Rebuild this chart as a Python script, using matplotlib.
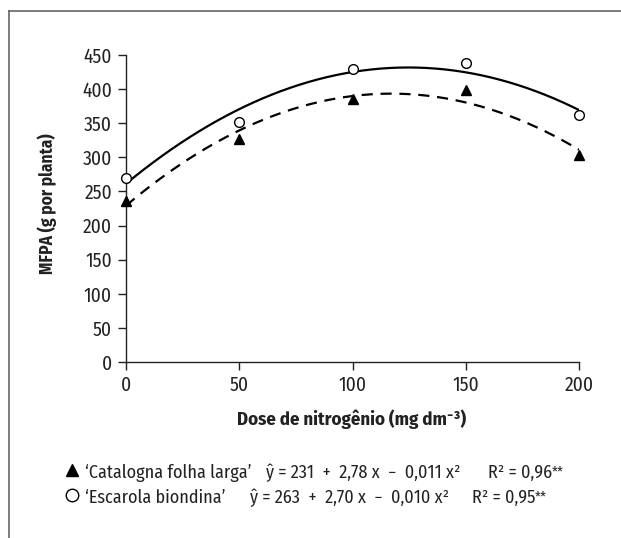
import numpy as np
import matplotlib
matplotlib.use("Agg")
import matplotlib.pyplot as plt
from matplotlib.lines import Line2D

FAM = ['Fira Sans Condensed', 'Roboto Condensed', 'DejaVu Sans']
plt.rcParams['font.family'] = FAM

dose = [0, 50, 100, 150, 200]
catalogna = [236, 327, 386, 398, 303]
escarola = [270, 352, 429, 438, 362]
yticks = [0, 50, 100, 150, 200, 250, 300, 350, 400, 450]
xticks = [0, 50, 100, 150, 200]

W, H = 621, 538
fig = plt.figure(figsize=(W / 100, H / 100), dpi=100)
ax = fig.add_axes([126 / W, 1 - 362 / H, (579 - 126) / W, (362 - 55) / H])

xs = np.linspace(0, 200, 200)
pc = np.polyfit(dose, catalogna, 2)
pe = np.polyfit(dose, escarola, 2)
ax.plot(xs, np.polyval(pe, xs), color='black', lw=1.6, zorder=2)
ax.plot(xs, np.polyval(pc, xs), color='black', lw=1.6, ls=(0, (5, 3.5)), zorder=2)
ax.plot(dose, catalogna, ls='none', marker='^', ms=7, color='black', clip_on=False, zorder=3)
ax.plot(dose, escarola, ls='none', marker='o', ms=7, mfc='white', mec='black', mew=1.0,
        clip_on=False, zorder=3)

ax.set_xlim(0, 200)
ax.set_ylim(0, 450)
ax.set_xticks(xticks)
ax.set_yticks(yticks)
ax.tick_params(direction='out', length=6, width=1, labelsize=14, color='#222222',
               labelcolor='#222222', pad=4)
for s in ['top', 'right']:
    ax.spines[s].set_visible(False)
for s in ['left', 'bottom']:
    ax.spines[s].set_linewidth(1)
    ax.spines[s].set_color('#222222')

fig.text(47 / W, 1 - 204 / H, 'MFPA (g por planta)', rotation=90, ha='center', va='center',
         fontsize=12.5, fontweight='bold', color='#222222')
fig.text(352 / W, 1 - 419 / H, 'Dose de nitrogênio (mg dm⁻³)', ha='center', va='center',
         fontsize=13.5, fontweight='bold', color='#222222')

# border (top and left)
fig.add_artist(Line2D([9 / W, 1], [1 - 11 / H, 1 - 11 / H], transform=fig.transFigure,
                      color='#666666', lw=1.2))
fig.add_artist(Line2D([9 / W, 9 / W], [1 - 11 / H, 0], transform=fig.transFigure,
                      color='#666666', lw=1.2))

# legend
y1, y2 = 1 - 473 / H, 1 - 498 / H
fig.add_artist(Line2D([72 / W], [1 - 470 / H], transform=fig.transFigure, marker='^', ms=9,
                      color='black', ls='none'))
fig.add_artist(Line2D([72 / W], [1 - 495 / H], transform=fig.transFigure, marker='o', ms=9,
                      mfc='white', mec='black', mew=1.0, ls='none'))
fs = 13
renderer = fig.canvas.get_renderer()


def stars(t):
    bb = t.get_window_extent(renderer)
    fig.text((bb.x1 - 1) / W, (bb.y1 - 1) / H, '**', va='top', fontsize=10.5, color='#222222')


fig.text(85 / W, y1, '‘Catalogna folha larga’', va='center', fontsize=fs, color='#222222')
fig.text(266 / W, y1, 'ŷ = 231  +  2,78 x  −  0,011 x²', va='center', fontsize=fs,
         color='#222222')
stars(fig.text(488 / W, y1, 'R² = 0,96', va='center', fontsize=fs, color='#222222'))
fig.text(85 / W, y2, '‘Escarola biondina’', va='center', fontsize=fs, color='#222222')
fig.text(250 / W, y2, 'ŷ = 263  +  2,70 x  −  0,010 x²', va='center', fontsize=fs,
         color='#222222')
stars(fig.text(472 / W, y2, 'R² = 0,95', va='center', fontsize=fs, color='#222222'))

fig.savefig('out.png', dpi=100)
